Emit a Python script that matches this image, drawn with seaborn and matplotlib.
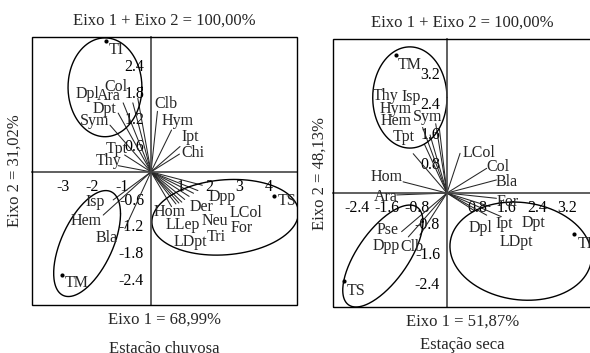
import numpy as np
import pandas as pd
import matplotlib
matplotlib.use("Agg")
import matplotlib.pyplot as plt
from matplotlib.patches import Rectangle
import seaborn as sns

sns.set_theme(style="white")
plt.rcParams["font.family"] = ["Liberation Serif", "DejaVu Serif"]
plt.rcParams["axes.unicode_minus"] = False

# ---- Estação chuvosa (left panel) ----
VAR_CHUVOSA = ["Col", "Dpl", "Ara", "Dpt", "Sym", "Tpt", "Thy", "Clb", "Hym", "Ipt",
               "Chi", "Isp", "Hem", "Bla", "Hom", "Der", "Dpp", "LCol", "LLep",
               "Neu", "For", "Tri", "LDpt"]
X_CHUVOSA = [-0.45, -0.95, -0.62, -1.12, -1.40, -0.90, -1.12, 0.22, 0.70, 0.99,
             0.97, -1.29, -1.63, -0.89, 0.70, 1.05, 1.75, 1.60, 0.85,
             1.30, 1.45, 1.15, 0.95]
Y_CHUVOSA = [1.65, 1.55, 1.55, 1.32, 1.05, 0.38, 0.14, 1.36, 0.94, 0.57,
             0.40, -0.63, -0.97, -1.27, -0.78, -0.68, -0.30, -0.42, -0.72,
             -0.55, -0.48, -0.62, -0.70]

SITES = ["TI", "TM", "TS"]
SITE_X_CHUVOSA = [-1.54, -3.03, 4.20]
SITE_Y_CHUVOSA = [2.93, -2.31, -0.55]

# ellipse per site: centre, sd x, sd y, correlation
ELL_CX_CHUVOSA = [-1.57, -2.18, 2.53]
ELL_CY_CHUVOSA = [1.90, -1.61, -1.02]
ELL_SX_CHUVOSA = [1.26, 1.14, 2.50]
ELL_SY_CHUVOSA = [1.11, 1.19, 0.85]
ELL_R_CHUVOSA = [0.0, 0.56, 0.12]

# ---- Estação seca (right panel) ----
VAR_SECA = ["Thy", "Isp", "Hym", "Sym", "Hem", "Tpt", "Hom", "LCol", "Col", "Bla",
            "Ara", "Pse", "Dpp", "Clb", "For", "Dpl", "Ipt", "Dpt", "LDpt"]
X_SECA = [-0.65, -0.30, -0.45, -0.20, -0.60, -0.90, -1.17, 0.35, 1.06, 1.32,
          -1.34, -1.21, -1.03, -0.72, 1.32, 0.70, 1.45, 1.15, 1.06]
Y_SECA = [1.75, 1.85, 1.55, 1.70, 1.30, 1.05, 0.30, 1.06, 0.66, 0.35,
          -0.05, -1.03, -1.17, -1.12, -0.14, -0.45, -0.63, -0.36, -0.59]

SITE_X_SECA = [3.39, -1.36, -2.74]
SITE_Y_SECA = [-1.08, 3.68, -2.35]

ELL_CX_SECA = [1.97, -0.99, -1.71]
ELL_CY_SECA = [-1.55, 2.55, -1.68]
ELL_SX_SECA = [1.89, 0.99, 1.07]
ELL_SY_SECA = [1.31, 1.35, 1.36]
ELL_R_SECA = [-0.10, 0.0, 0.67]

# label offsets in pixels (layout only)
OFF_CHUVOSA = {
    "Col": (-22, 11), "Dpl": (-36, 9), "Ara": (-24, 7), "Dpt": (-14, 4),
    "Sym": (-15, 4), "Tpt": (-8, 6), "Thy": (-10, 5), "Clb": (8, 7),
    "Hym": (6, 9), "Ipt": (10, 10), "Chi": (13, 1), "Isp": (-18, -2),
    "Hem": (-17, -6), "Bla": (-18, -10), "Hom": (-2, -5), "Der": (20, -5),
    "Dpp": (20, -12), "LCol": (48, -22), "LLep": (7, -21), "Neu": (26, -25),
    "For": (48, -35), "Tri": (32, -38), "LDpt": (11, -39),
}
OFF_SECA = {
    "Thy": (-37, 31), "Isp": (-25, 27), "Hym": (-34, 26), "Sym": (-12, 12),
    "Hem": (-28, 23), "Tpt": (-10, 17), "Hom": (-16, 5), "LCol": (19, 0),
    "Col": (11, 1), "Bla": (10, -2), "Ara": (-11, -2), "Pse": (-14, 2),
    "Dpp": (-22, -9), "Clb": (-8, -12), "For": (11, -4), "Dpl": (7, -18),
    "Ipt": (3, -7), "Dpt": (43, -16), "LDpt": (30, -27),
}
OFF_SITE_CHUVOSA = {"TI": (10, -9), "TM": (15, -8), "TS": (13, -5)}
OFF_SITE_SECA = {"TI": (11, -10), "TM": (14, -10), "TS": (12, -10)}

FS = 11.5


def draw_biplot(ax, names, xs, ys, offs, sx, sy, soffs, ell, xlim, ylim, xticks, yticks):
    ax.set_xlim(*xlim)
    ax.set_ylim(*ylim)

    # vectors from origin
    rows = []
    for n, x, y in zip(names, xs, ys):
        rows.append({"var": n, "x": 0.0, "y": 0.0})
        rows.append({"var": n, "x": x, "y": y})
    vec = pd.DataFrame(rows)
    sns.lineplot(data=vec, x="x", y="y", units="var", estimator=None, sort=False,
                 color="#262626", lw=0.75, ax=ax, legend=False)
    for n, x, y in zip(names, xs, ys):
        ax.annotate(n, (x, y), xytext=offs[n], textcoords="offset pixels",
                    ha="center", va="center", fontsize=FS)

    # ellipses
    t = np.linspace(0, 2 * np.pi, 200)
    for cx, cy, ex, ey, r in zip(*ell):
        cov = np.array([[ex * ex, r * ex * ey], [r * ex * ey, ey * ey]])
        L = np.linalg.cholesky(cov)
        pts = L @ np.vstack([np.cos(t), np.sin(t)])
        ax.plot(cx + pts[0], cy + pts[1], color="black", lw=1.0)

    # sites
    sns.scatterplot(x=sx, y=sy, color="black", s=9, linewidth=0, ax=ax, zorder=5)
    for n, x, y in zip(SITES, sx, sy):
        ax.annotate(n, (x, y), xytext=soffs[n], textcoords="offset pixels",
                    ha="center", va="center", fontsize=FS)

    # crossed axes through origin
    for s in ["top", "right"]:
        ax.spines[s].set_visible(False)
    ax.spines["left"].set_position("zero")
    ax.spines["bottom"].set_position("zero")
    ax.spines["left"].set_color("#444444")
    ax.spines["bottom"].set_color("#444444")
    ax.spines["left"].set_linewidth(1.2)
    ax.spines["bottom"].set_linewidth(1.2)
    ax.set_xticks(xticks)
    ax.set_yticks(yticks)
    ax.set_xticklabels([f"{v:g}" for v in xticks])
    ax.set_yticklabels([f"{v:g}" for v in yticks])
    ax.tick_params(axis="both", direction="out", length=4, width=1, pad=1,
                   labelsize=FS, colors="black")
    ax.set_xlabel("")
    ax.set_ylabel("")
    ax.add_patch(Rectangle((0, 0), 1, 1, transform=ax.transAxes, fill=False,
                           lw=1.0, color="black", clip_on=False, zorder=10))


fig = plt.figure(figsize=(5.9, 3.53), dpi=100)
ax1 = fig.add_axes([0.0542, 0.1360, 0.4492, 0.7592])
ax2 = fig.add_axes([0.5644, 0.1303, 0.4390, 0.7592])

draw_biplot(ax1, VAR_CHUVOSA, X_CHUVOSA, Y_CHUVOSA, OFF_CHUVOSA,
            SITE_X_CHUVOSA, SITE_Y_CHUVOSA, OFF_SITE_CHUVOSA,
            (ELL_CX_CHUVOSA, ELL_CY_CHUVOSA, ELL_SX_CHUVOSA, ELL_SY_CHUVOSA, ELL_R_CHUVOSA),
            (-4.06, 4.98), (-2.99, 3.03),
            [-3, -2, -1, 1, 2, 3, 4], [2.4, 1.8, 1.2, 0.6, -0.6, -1.2, -1.8, -2.4])
draw_biplot(ax2, VAR_SECA, X_SECA, Y_SECA, OFF_SECA,
            SITE_X_SECA, SITE_Y_SECA, OFF_SITE_SECA,
            (ELL_CX_SECA, ELL_CY_SECA, ELL_SX_SECA, ELL_SY_SECA, ELL_R_SECA),
            (-3.04, 3.87), (-3.04, 4.11),
            [-2.4, -1.6, -0.8, 0.8, 1.6, 2.4, 3.2], [3.2, 2.4, 1.6, 0.8, -0.8, -1.6, -2.4])

for ax, xl, yl, season, sy_off in [
    (ax1, "Eixo 1 = 68,99%", "Eixo 2 = 31,02%", "Estação chuvosa", -0.164),
    (ax2, "Eixo 1 = 51,87%", "Eixo 2 = 48,13%", "Estação seca", -0.142),
]:
    ax.text(0.5, 1.06, "Eixo 1 + Eixo 2 = 100,00%", transform=ax.transAxes,
            ha="center", va="center", fontsize=12)
    ax.text(0.5, -0.055, xl, transform=ax.transAxes, ha="center", va="center", fontsize=12)
    ax.text(0.5, sy_off, season, transform=ax.transAxes, ha="center", va="center", fontsize=12)

ax1.text(-0.064, 0.5, "Eixo 2 = 31,02%", transform=ax1.transAxes, rotation=90,
         ha="center", va="center", fontsize=12)
ax2.text(-0.05, 0.5, "Eixo 2 = 48,13%", transform=ax2.transAxes, rotation=90,
         ha="center", va="center", fontsize=12)

fig.savefig("out.png", dpi=100)
